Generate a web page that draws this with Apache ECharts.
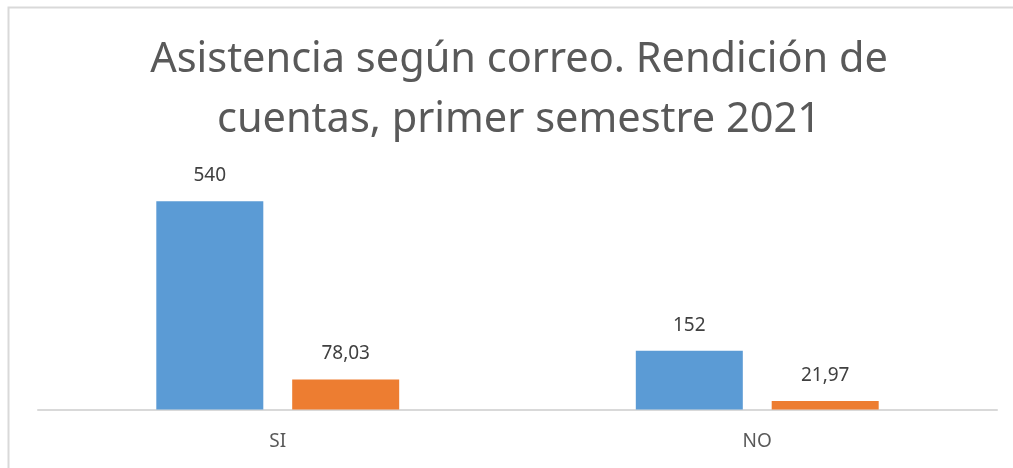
<!DOCTYPE html>
<html>
<head>
<meta charset="utf-8">
<script src="https://cdn.jsdelivr.net/npm/echarts@6/dist/echarts.min.js"></script>
<style>
  html, body { margin: 0; padding: 0; background: #fff; }
  #chart { width: 1013px; height: 468px; }
</style>
</head>
<body>
<div id="chart"></div>
<script>
// categorias y valores
var categories = ['SI', 'NO'];
var serieCantidad = [540, 152];
var seriePorcentaje = [78.03, 21.97];

// formato con coma decimal
function fmtComa(v) {
	return (v + '').replace('.', ',');
}

var myChart = echarts.init(document.getElementById('chart'));

var option = {
	animation: false,
	title: {
		text: 'Asistencia según correo. Rendición de\ncuentas, primer semestre 2021',
		left: 514,
		textAlign: 'center',
		top: 25,
		textStyle: {
			fontFamily: 'Noto Sans',
			fontSize: 41.5,
			fontWeight: 'normal',
			color: '#595959',
			lineHeight: 60
		}
	},
	graphic: [{
		type: 'rect',
		shape: { x: 8.5, y: 7.5, width: 1100, height: 500 },
		style: { fill: 'none', stroke: '#d9d9d9', lineWidth: 2 },
		silent: true
	}],
	grid: {
		left: 38,
		right: 16,
		top: 178,
		bottom: 58.5
	},
	xAxis: {
		type: 'category',
		data: categories,
		axisLine: { lineStyle: { color: '#d9d9d9', width: 2 } },
		axisTick: { show: false },
		axisLabel: {
			color: '#595959',
			fontFamily: 'Noto Sans',
			fontSize: 19,
			margin: 23
		}
	},
	yAxis: {
		type: 'value',
		min: 0,
		max: 600,
		show: false
	},
	series: [{
		name: 'Cantidad',
		type: 'bar',
		data: serieCantidad,
		barWidth: 107,
		barGap: '27%',
		itemStyle: { color: '#5b9bd5' },
		label: {
			show: true,
			position: 'top',
			distance: 16,
			color: '#404040',
			fontFamily: 'Noto Sans',
			fontSize: 19,
			formatter: function(p) { return fmtComa(p.value); }
		}
	}, {
		name: 'Porcentaje',
		type: 'bar',
		data: seriePorcentaje,
		barWidth: 107,
		itemStyle: { color: '#ed7d31' },
		label: {
			show: true,
			position: 'top',
			distance: 16,
			color: '#404040',
			fontFamily: 'Noto Sans',
			fontSize: 19,
			formatter: function(p) { return fmtComa(p.value); }
		}
	}]
};

myChart.setOption(option);
</script>
</body>
</html>
